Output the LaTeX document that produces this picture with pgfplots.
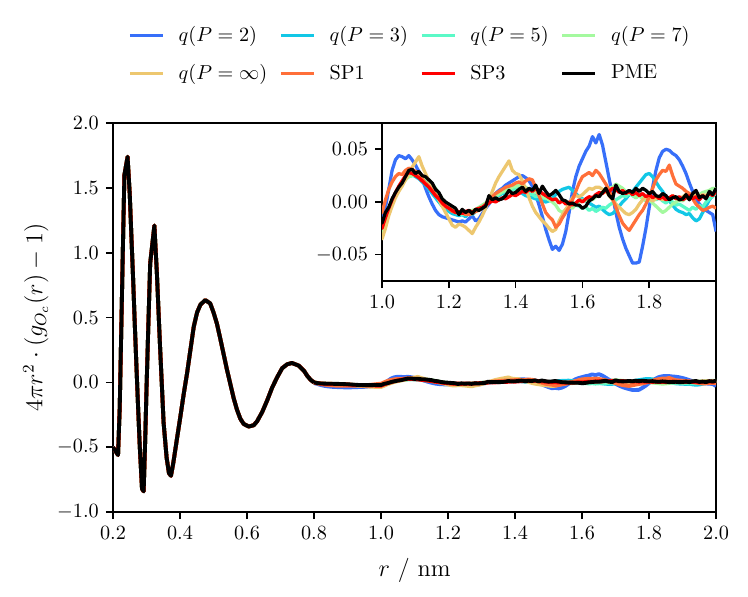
\documentclass[border=0pt]{standalone}
\usepackage{pgfplots}
\usepackage{pgfplotstable}
\pgfplotsset{compat=1.18}
\definecolor{cp2}{RGB}{55,111,249}
\definecolor{cp3}{RGB}{18,199,230}
\definecolor{cp5}{RGB}{91,249,199}
\definecolor{cp7}{RGB}{164,249,159}
\definecolor{cpinf}{RGB}{237,199,111}
\definecolor{csp1}{RGB}{255,111,57}
\definecolor{csp3}{RGB}{255,0,0}

\pgfplotstableread{
r y
0.200 -0.50
0.205 -0.52
0.210 -0.54
0.215 -0.56
0.220 -0.20
0.225 0.45
0.230 1.10
0.234 1.60
0.2435 1.74
0.250 1.45
0.255 1.12
0.260 0.80
0.265 0.45
0.270 0.12
0.275 -0.20
0.280 -0.50
0.2865 -0.82
0.2915 -0.84
0.296 -0.45
0.300 -0.05
0.305 0.40
0.311 0.92
0.3235 1.21
0.331 0.84
0.340 0.30
0.351 -0.31
0.360 -0.58
0.367 -0.70
0.373 -0.72
0.380 -0.62
0.390 -0.45
0.401 -0.265
0.411 -0.09
0.421 0.07
0.431 0.25
0.441 0.43
0.451 0.54
0.461 0.60
0.4755 0.635
0.490 0.61
0.500 0.54
0.510 0.455
0.520 0.34
0.530 0.22
0.540 0.10
0.550 -0.01
0.560 -0.12
0.570 -0.21
0.580 -0.28
0.590 -0.32
0.605 -0.34
0.620 -0.33
0.630 -0.30
0.645 -0.23
0.660 -0.14
0.675 -0.04
0.690 0.04
0.705 0.11
0.720 0.14
0.734 0.15
0.754 0.13
0.770 0.09
0.780 0.05
0.790 0.02
0.800 0.00
}\headtab

\pgfplotstableread{
r p2 p3 p5 p7 pinf sp1 sp3 pme
0.80 -0.005 -0.002 0.000 0.000 0.002 -0.002 0.000 0.000
0.81 -0.012 -0.006 -0.005 -0.004 -0.003 -0.008 -0.005 -0.005
0.82 -0.020 -0.009 -0.008 -0.008 -0.007 -0.013 -0.008 -0.008
0.83 -0.026 -0.011 -0.010 -0.010 -0.009 -0.017 -0.010 -0.009
0.84 -0.030 -0.012 -0.011 -0.011 -0.010 -0.020 -0.011 -0.010
0.85 -0.033 -0.013 -0.012 -0.011 -0.011 -0.022 -0.011 -0.010
0.86 -0.035 -0.014 -0.012 -0.012 -0.012 -0.024 -0.012 -0.011
0.87 -0.036 -0.015 -0.013 -0.012 -0.013 -0.025 -0.012 -0.011
0.88 -0.037 -0.016 -0.014 -0.013 -0.015 -0.026 -0.013 -0.012
0.89 -0.038 -0.017 -0.015 -0.014 -0.017 -0.026 -0.014 -0.013
0.90 -0.038 -0.018 -0.016 -0.015 -0.019 -0.026 -0.015 -0.014
0.91 -0.038 -0.020 -0.018 -0.017 -0.021 -0.026 -0.017 -0.016
0.92 -0.037 -0.021 -0.019 -0.019 -0.023 -0.025 -0.019 -0.018
0.93 -0.036 -0.023 -0.021 -0.020 -0.025 -0.024 -0.020 -0.019
0.94 -0.035 -0.024 -0.022 -0.021 -0.027 -0.023 -0.021 -0.020
0.95 -0.034 -0.026 -0.023 -0.023 -0.029 -0.022 -0.022 -0.021
0.96 -0.032 -0.027 -0.024 -0.024 -0.031 -0.020 -0.023 -0.021
0.97 -0.030 -0.028 -0.025 -0.026 -0.033 -0.018 -0.024 -0.021
0.98 -0.027 -0.029 -0.025 -0.027 -0.034 -0.015 -0.024 -0.020
0.99 -0.024 -0.030 -0.025 -0.029 -0.035 -0.012 -0.025 -0.020
1.00 -0.020 -0.030 -0.025 -0.030 -0.035 -0.010 -0.025 -0.020
1.01 -0.005 -0.020 -0.016 -0.020 -0.025 0.002 -0.015 -0.010
1.02 0.012 -0.010 -0.008 -0.011 -0.013 0.012 -0.006 -0.005
1.03 0.030 0.000 0.001 -0.002 -0.004 0.019 0.002 0.003
1.04 0.040 0.008 0.008 0.006 0.004 0.024 0.009 0.009
1.05 0.044 0.014 0.014 0.012 0.010 0.027 0.015 0.014
1.06 0.043 0.019 0.018 0.017 0.015 0.026 0.020 0.018
1.07 0.041 0.022 0.022 0.021 0.021 0.030 0.025 0.024
1.08 0.044 0.025 0.024 0.024 0.027 0.032 0.028 0.030
1.09 0.040 0.026 0.025 0.025 0.033 0.031 0.027 0.031
1.10 0.035 0.024 0.025 0.026 0.038 0.029 0.025 0.027
1.11 0.029 0.022 0.024 0.025 0.043 0.027 0.023 0.029
1.12 0.022 0.019 0.022 0.024 0.034 0.022 0.020 0.025
1.13 0.013 0.016 0.020 0.023 0.027 0.018 0.017 0.024
1.14 0.005 0.012 0.017 0.021 0.020 0.015 0.014 0.021
1.15 -0.002 0.008 0.013 0.017 0.013 0.011 0.010 0.018
1.16 -0.008 0.004 0.009 0.013 0.008 0.007 0.006 0.012
1.17 -0.012 0.000 0.005 0.008 0.002 0.004 0.003 0.009
1.18 -0.014 -0.004 0.001 0.003 -0.004 0.000 -0.001 0.003
1.19 -0.015 -0.007 -0.003 -0.001 -0.010 -0.004 -0.004 0.000
1.20 -0.016 -0.009 -0.006 -0.004 -0.016 -0.006 -0.006 -0.002
1.21 -0.017 -0.011 -0.008 -0.007 -0.022 -0.009 -0.008 -0.004
1.22 -0.018 -0.012 -0.010 -0.009 -0.024 -0.010 -0.010 -0.006
1.23 -0.019 -0.013 -0.011 -0.010 -0.021 -0.011 -0.009 -0.012
1.24 -0.018 -0.012 -0.012 -0.011 -0.022 -0.010 -0.011 -0.007
1.25 -0.019 -0.014 -0.012 -0.010 -0.024 -0.012 -0.009 -0.010
1.26 -0.016 -0.011 -0.011 -0.010 -0.027 -0.012 -0.008 -0.008
1.27 -0.013 -0.012 -0.009 -0.008 -0.030 -0.011 -0.010 -0.011
1.28 -0.018 -0.009 -0.008 -0.007 -0.024 -0.009 -0.007 -0.007
1.29 -0.016 -0.007 -0.006 -0.005 -0.019 -0.008 -0.006 -0.008
1.30 -0.011 -0.004 -0.004 -0.003 -0.013 -0.005 -0.005 -0.006
1.31 -0.006 -0.002 -0.002 -0.001 -0.006 -0.002 -0.003 -0.004
1.32 -0.002 0.001 0.000 0.002 0.002 0.002 -0.001 0.006
1.33 0.003 0.003 0.003 0.004 0.010 0.005 0.001 0.002
1.34 0.008 0.005 0.005 0.006 0.018 0.008 0.000 0.004
1.35 0.011 0.006 0.007 0.008 0.024 0.010 0.002 0.002
1.36 0.013 0.008 0.009 0.010 0.029 0.012 0.004 0.003
1.37 0.016 0.009 0.010 0.011 0.034 0.014 0.003 0.006
1.38 0.018 0.011 0.011 0.012 0.039 0.015 0.005 0.011
1.39 0.020 0.012 0.012 0.014 0.030 0.016 0.007 0.008
1.40 0.022 0.012 0.012 0.015 0.027 0.018 0.006 0.009
1.41 0.024 0.010 0.013 0.016 0.026 0.019 0.008 0.012
1.42 0.025 0.008 0.011 0.015 0.020 0.017 0.010 0.014
1.43 0.023 0.006 0.010 0.014 0.012 0.020 0.009 0.010
1.44 0.020 0.005 0.008 0.012 0.004 0.022 0.012 0.013
1.45 0.015 0.004 0.007 0.010 -0.004 0.021 0.010 0.011
1.46 0.007 0.003 0.005 0.009 -0.010 0.014 0.013 0.016
1.47 -0.003 0.002 0.006 0.007 -0.014 0.006 0.011 0.008
1.48 -0.014 0.001 0.004 0.005 -0.018 -0.002 0.008 0.015
1.49 -0.026 0.000 0.003 0.004 -0.021 -0.010 0.006 0.010
1.50 -0.036 0.001 0.005 0.002 -0.025 -0.014 0.004 0.006
1.51 -0.045 0.004 0.002 0.000 -0.028 -0.017 0.002 0.008
1.52 -0.042 0.007 0.003 -0.003 -0.026 -0.024 0.003 0.011
1.53 -0.046 0.010 0.000 -0.008 -0.018 -0.021 -0.001 0.007
1.54 -0.040 0.012 0.001 -0.010 -0.012 -0.015 0.001 0.002
1.55 -0.028 0.013 -0.001 -0.007 -0.007 -0.010 -0.002 0.001
1.56 -0.010 0.014 -0.002 -0.004 -0.002 -0.005 0.000 -0.002
1.57 0.010 0.011 0.000 -0.006 0.004 0.002 -0.003 -0.001
1.58 0.024 0.008 -0.003 -0.002 0.006 0.010 -0.001 -0.003
1.59 0.034 0.005 -0.004 0.000 0.005 0.018 0.002 -0.003
1.60 0.041 0.003 -0.006 0.002 0.007 0.024 0.000 -0.006
1.61 0.048 0.001 -0.005 0.001 0.010 0.026 0.003 -0.004
1.62 0.053 -0.001 -0.008 0.003 0.013 0.028 0.005 0.001
1.63 0.062 -0.003 -0.006 0.002 0.012 0.025 0.004 0.003
1.64 0.056 -0.005 -0.009 0.005 0.014 0.030 0.007 0.006
1.65 0.064 -0.004 -0.007 0.007 0.014 0.027 0.009 0.005
1.66 0.054 -0.007 -0.005 0.009 0.012 0.022 0.008 0.009
1.67 0.038 -0.010 -0.006 0.011 0.010 0.017 0.011 0.013
1.68 0.022 -0.012 -0.003 0.013 0.006 0.011 0.010 0.006
1.69 0.006 -0.011 -0.001 0.014 0.002 0.003 0.013 0.003
1.70 -0.010 -0.008 0.002 0.017 -0.002 -0.005 0.012 0.016
1.71 -0.024 -0.004 0.004 0.015 -0.005 -0.013 0.009 0.010
1.72 -0.035 0.000 0.006 0.013 -0.008 -0.020 0.011 0.008
1.73 -0.044 0.003 0.005 0.010 -0.011 -0.024 0.008 0.009
1.74 -0.051 0.007 0.008 0.008 -0.012 -0.027 0.010 0.011
1.75 -0.058 0.010 0.006 0.007 -0.010 -0.022 0.007 0.009
1.76 -0.058 0.014 0.004 0.004 -0.007 -0.017 0.009 0.013
1.77 -0.057 0.018 0.007 0.006 -0.002 -0.012 0.006 0.010
1.78 -0.042 0.022 0.005 0.003 0.002 -0.008 0.008 0.013
1.79 -0.025 0.026 0.003 0.001 0.005 -0.002 0.005 0.011
1.80 -0.005 0.027 0.006 0.002 0.003 0.005 0.007 0.008
1.81 0.014 0.024 0.004 -0.001 0.001 0.013 0.004 0.010
1.82 0.030 0.019 0.002 -0.004 0.003 0.021 0.006 0.006
1.83 0.042 0.014 0.004 -0.007 0.004 0.026 0.003 0.005
1.84 0.048 0.010 0.001 -0.010 0.002 0.030 0.005 0.008
1.85 0.050 0.005 -0.001 -0.008 0.005 0.029 0.002 0.006
1.86 0.049 0.001 0.002 -0.005 0.003 0.035 0.004 0.002
1.87 0.046 -0.003 0.000 -0.002 0.006 0.025 0.006 0.004
1.88 0.044 -0.007 -0.003 0.000 0.004 0.017 0.003 0.005
1.89 0.040 -0.009 -0.002 0.002 0.002 0.015 0.005 0.002
1.90 0.034 -0.010 -0.004 0.001 0.005 0.013 0.002 0.003
1.91 0.027 -0.012 -0.006 0.004 0.007 0.010 0.004 0.007
1.92 0.018 -0.011 -0.008 0.003 0.004 0.008 0.006 0.002
1.93 0.010 -0.015 -0.005 0.006 0.006 0.003 0.003 0.008
1.94 0.003 -0.018 -0.007 0.008 0.008 -0.002 0.005 0.011
1.95 -0.002 -0.016 -0.003 0.007 0.005 -0.005 0.002 0.004
1.96 -0.005 -0.010 -0.005 0.009 0.007 -0.008 0.006 0.006
1.97 -0.008 -0.004 0.000 0.010 0.006 -0.007 0.004 0.003
1.98 -0.010 0.002 0.003 0.011 0.009 -0.005 0.008 0.010
1.99 -0.012 0.006 0.005 0.013 0.007 -0.004 0.006 0.007
2.00 -0.028 0.008 0.009 0.012 0.010 -0.006 0.010 0.013
}\tailtab

\pgfplotsset{
  mystyle/.style={
    scale only axis,
    tick align=outside,
    xtick pos=left, ytick pos=left,
    major tick length=3.5pt,
    axis line style={line width=0.8pt},
    tick style={line width=0.8pt, black},
    scaled ticks=false,
  }
}

\begin{document}
\begin{tikzpicture}
\path[use as bounding box] (0,0) rectangle (370pt,-295.3pt);
\begin{axis}[
  mystyle,
  every axis plot/.append style={line width=1.9pt, line join=round},
  at={(55.9pt,-253.3pt)}, anchor=south west,
  width=298.3pt, height=192.4pt,
  xmin=0.2, xmax=2.0, ymin=-1, ymax=2,
  xtick={0.2,0.4,0.6,0.8,1.0,1.2,1.4,1.6,1.8,2.0},
  ytick={-1,-0.5,0,0.5,1,1.5,2},
  x tick label style={/pgf/number format/.cd, fixed, fixed zerofill, precision=1},
  y tick label style={/pgf/number format/.cd, fixed, fixed zerofill, precision=1},
  xlabel={$r$ / nm},
  ylabel={$4\pi r^2\cdot(g_{O_c}(r)-1)$},
  label style={font=\large},
  xlabel style={at={(axis description cs:0.5,-0.149)}, anchor=center},
  ylabel style={at={(axis description cs:-0.128,0.5)}, anchor=center},
  legend columns=4,
  legend cell align=left,
  legend style={draw=none, fill=none, inner sep=0pt,
    nodes={inner sep=0pt},
    at={(0.0248,1.25)}, anchor=north west,
    row sep=9.9pt,
    /tikz/every odd column/.append style={column sep=7pt},
    /tikz/every even column/.append style={column sep=6pt}},
  legend image code/.code={\draw[#1, line width=1.6pt] (0pt,0pt) -- (16.3pt,0pt);},
]
\addplot[cp2, forget plot] table[x=r, y=y] {\headtab};
\addplot[cp2] table[x=r, y=p2] {\tailtab};
\addlegendentry{$q(P=2)$}
\addplot[cp3, forget plot] table[x=r, y=y] {\headtab};
\addplot[cp3] table[x=r, y=p3] {\tailtab};
\addlegendentry{$q(P=3)$}
\addplot[cp5, forget plot] table[x=r, y=y] {\headtab};
\addplot[cp5] table[x=r, y=p5] {\tailtab};
\addlegendentry{$q(P=5)$}
\addplot[cp7, forget plot] table[x=r, y=y] {\headtab};
\addplot[cp7] table[x=r, y=p7] {\tailtab};
\addlegendentry{$q(P=7)$}
\addplot[cpinf, forget plot] table[x=r, y=y] {\headtab};
\addplot[cpinf] table[x=r, y=pinf] {\tailtab};
\addlegendentry{$q(P=\infty)$}
\addplot[csp1, forget plot] table[x=r, y=y] {\headtab};
\addplot[csp1] table[x=r, y=sp1] {\tailtab};
\addlegendentry{SP1}
\addplot[csp3, forget plot] table[x=r, y=y] {\headtab};
\addplot[csp3] table[x=r, y=sp3] {\tailtab};
\addlegendentry{SP3}
\addplot[black, forget plot] table[x=r, y=y] {\headtab};
\addplot[black] table[x=r, y=pme] {\tailtab};
\addlegendentry{PME}
\end{axis}

\begin{axis}[
  mystyle,
  every axis plot/.append style={line width=1.6pt, line join=round},
  at={(354.2pt,-60.8pt)}, anchor=north east,
  width=165.2pt, height=78.2pt,
  xmin=1.0, xmax=2.0, ymin=-0.075, ymax=0.075,
  xtick={1.0,1.2,1.4,1.6,1.8},
  ytick={-0.05,0,0.05},
  axis background/.style={fill=white},
  x tick label style={/pgf/number format/.cd, fixed, fixed zerofill, precision=1},
  y tick label style={/pgf/number format/.cd, fixed, fixed zerofill, precision=2},
]
\addplot[cp2] table[x=r, y=p2] {\tailtab};
\addplot[cp3] table[x=r, y=p3] {\tailtab};
\addplot[cp5] table[x=r, y=p5] {\tailtab};
\addplot[cp7] table[x=r, y=p7] {\tailtab};
\addplot[cpinf] table[x=r, y=pinf] {\tailtab};
\addplot[csp1] table[x=r, y=sp1] {\tailtab};
\addplot[csp3] table[x=r, y=sp3] {\tailtab};
\addplot[black] table[x=r, y=pme] {\tailtab};
\end{axis}
\end{tikzpicture}
\end{document}
